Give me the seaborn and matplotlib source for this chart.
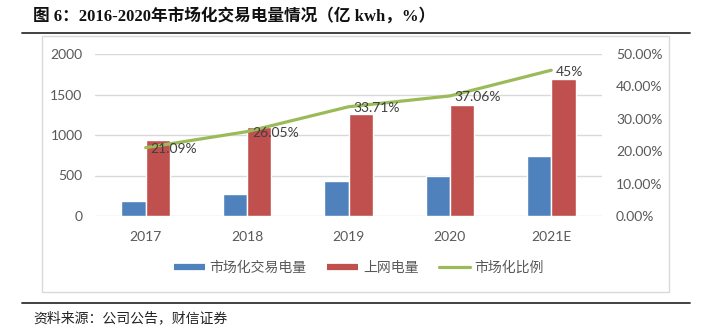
import numpy as np
import pandas as pd
import matplotlib
matplotlib.use("Agg")
import matplotlib.pyplot as plt
from matplotlib.lines import Line2D
from matplotlib.patches import Rectangle
from matplotlib.ticker import FuncFormatter
import seaborn as sns

# ---- data ----
years = ["2017", "2018", "2019", "2020", "2021E"]
market_trade = [185, 276, 428, 500, 745]        # 市场化交易电量 (亿kWh)
grid_power = [935, 1095, 1260, 1370, 1690]      # 上网电量 (亿kWh)
market_ratio = [21.09, 26.05, 33.71, 37.06, 45]  # 市场化比例 (%)
ratio_labels = ["21.09%", "26.05%", "33.71%", "37.06%", "45%"]
series_names = ["市场化交易电量", "上网电量", "市场化比例"]
left_ticks = [0, 500, 1000, 1500, 2000]
right_ticks = [0, 10, 20, 30, 40, 50]

BLUE = "#4F81BD"
RED = "#C0504D"
GREEN = "#9BBB59"
TXT = "#595959"
GRID = "#D9D9D9"

sns.set_theme(style="white")
plt.rcParams["font.family"] = ["Lato", "Noto Sans CJK SC", "DejaVu Sans"]
plt.rcParams["axes.unicode_minus"] = False

W, H = 706, 333
fig = plt.figure(figsize=(W / 100, H / 100), dpi=100)


def fx(px):
    return px / W


def fy(py):
    return 1 - py / H


# plot area in pixels
L, R, T, B = 95, 602, 54, 216
ax = fig.add_axes([fx(L), fy(B), fx(R - L), (B - T) / H])

df = pd.DataFrame({
    "year": years * 2,
    "value": market_trade + grid_power,
    "series": [series_names[0]] * len(years) + [series_names[1]] * len(years),
})
sns.barplot(data=df, x="year", y="value", hue="series", order=years,
            hue_order=series_names[:2], palette=[BLUE, RED], width=0.48,
            saturation=1, legend=False, ax=ax, zorder=2)

ax.set_ylim(0, 2000)
ax.set_xlim(-0.5, len(years) - 0.5)
ax.set_yticks(left_ticks)
ax.yaxis.grid(True, color=GRID, lw=1, zorder=0)
ax.set_axisbelow(True)
ax.set_xlabel("")
ax.set_ylabel("")
for s in ax.spines.values():
    s.set_visible(False)
ax.tick_params(axis="x", length=0, pad=10.5, labelsize=10, labelcolor=TXT)
ax.tick_params(axis="y", length=0, pad=9, labelsize=10, labelcolor=TXT)

ax2 = ax.twinx()
sns.lineplot(x=np.arange(len(years)), y=market_ratio, color=GREEN, lw=2.3,
             ax=ax2, zorder=3)
ax2.set_ylim(0, 50)
ax2.set_yticks(right_ticks)
ax2.yaxis.set_major_formatter(FuncFormatter(lambda v, p: f"{v:.2f}%"))
ax2.tick_params(axis="y", length=0, pad=10, labelsize=10, labelcolor=TXT)
for s in ax2.spines.values():
    s.set_visible(False)
ax2.set_ylabel("")

for i, (v, lab) in enumerate(zip(market_ratio, ratio_labels)):
    ax2.annotate(lab, (i, v), xytext=(3.5, -1), textcoords="offset points",
                 ha="left", va="center", fontsize=10, color="#404040", zorder=4)

# chart frame
fig.add_artist(Rectangle((fx(42), fy(292)), fx(669 - 42), (292 - 36) / H,
                         transform=fig.transFigure, fill=False,
                         edgecolor=GRID, lw=1))

# legend
handles = [
    Line2D([], [], color=BLUE, lw=4.5, solid_capstyle="butt"),
    Line2D([], [], color=RED, lw=4.5, solid_capstyle="butt"),
    Line2D([], [], color=GREEN, lw=2.3, solid_capstyle="round"),
]
fig.legend(handles, series_names, loc="center", bbox_to_anchor=(fx(359), fy(268)),
           ncol=3, frameon=False, handlelength=2.2,
           handletextpad=0.35, columnspacing=1.5, labelcolor=TXT,
           prop={"family": ["Noto Sans CJK SC"], "size": 10})

# header and footer
fig.text(fx(33), fy(16), "图 6：2016-2020年市场化交易电量情况（亿 kwh，%）",
         ha="left", va="center", fontsize=12, fontweight="bold",
         family=["Liberation Serif", "Noto Sans CJK SC"], color="#111111")
fig.add_artist(Line2D([fx(22), fx(690)], [fy(33), fy(33)],
                      transform=fig.transFigure, color="#333333", lw=1.3))
fig.add_artist(Line2D([fx(22), fx(690)], [fy(303), fy(303)],
                      transform=fig.transFigure, color="#333333", lw=1.3))
fig.text(fx(33), fy(318), "资料来源：公司公告，财信证券", ha="left", va="center",
         fontsize=10, family=["Noto Sans CJK SC"], style="italic", color="#222222")

fig.savefig("out.png", dpi=100)
